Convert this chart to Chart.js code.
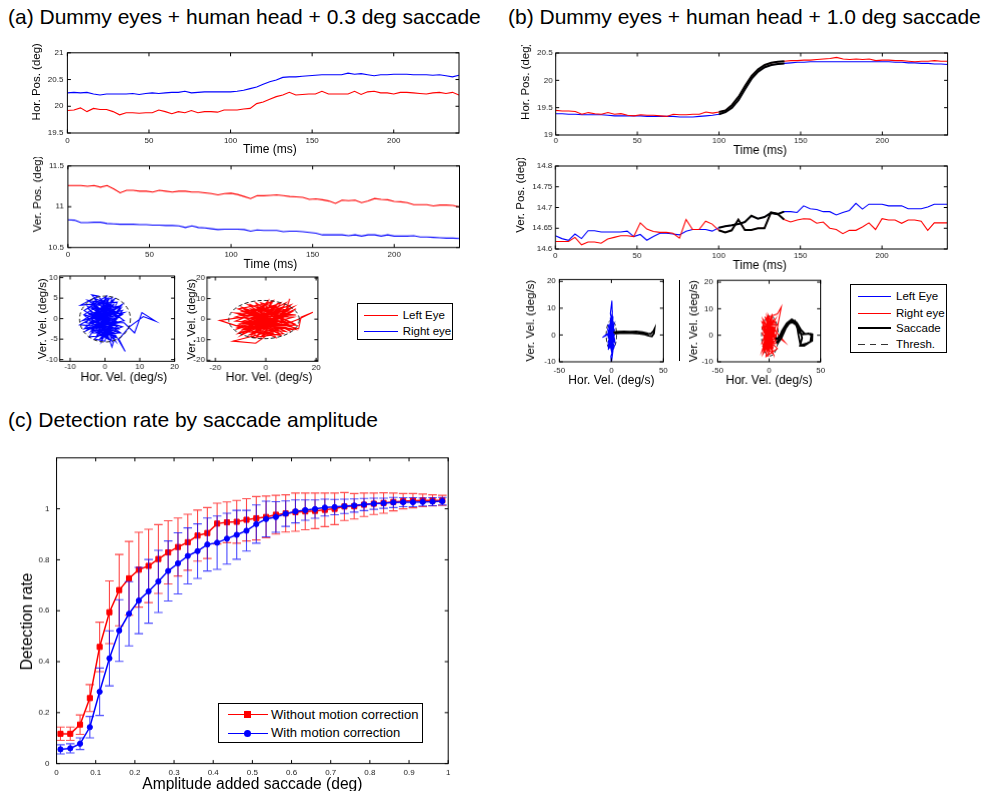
<!DOCTYPE html>
<html>
<head>
<meta charset="utf-8">
<script src="https://cdn.jsdelivr.net/npm/chart.js@4.4.1/dist/chart.umd.min.js"></script>
<style>
  body { margin: 0; background: #fff; width: 981px; height: 791px; position: relative; overflow: hidden;
         font-family: 'Liberation Sans', Arial, Helvetica, sans-serif; color: #000; }
  .plot { position: absolute; }
  .title { position: absolute; font-size: 21px; line-height: 21px; white-space: nowrap; }
  .legend { position: absolute; border: 1px solid #000; background: #fff; box-sizing: border-box; }
  .item { position: absolute; left: 0; right: 0; height: 16px; }
  .sw { position: absolute; top: 8px; height: 0; }
  .mk { position: absolute; }
  .lab { position: absolute; top: 0; line-height: 16px; white-space: nowrap; }
  .vline { position: absolute; background: #000; }
</style>
</head>
<body>
<div class="title" style="left:8px;top:6px">(a) Dummy eyes + human head + 0.3 deg saccade</div>
<div class="title" style="left:508px;top:6px">(b) Dummy eyes + human head + 1.0 deg saccade</div>
<div class="title" style="left:8px;top:409px">(c) Detection rate by saccade amplitude</div>

<div class="legend" style="left:356.7px;top:302.7px;width:96px;height:37px">
  <div class="item" style="top:3px"><div class="sw" style="left:6.6px;width:33.4px;border-top:1px solid #ff0000"></div><div class="lab" style="left:45px;font-size:11.5px">Left Eye</div></div>
  <div class="item" style="top:19.3px"><div class="sw" style="left:6.6px;width:33.4px;border-top:1px solid #0000ff"></div><div class="lab" style="left:45px;font-size:11.5px">Right eye</div></div>
</div>

<div class="legend" style="left:850px;top:284px;width:96.7px;height:68.7px">
  <div class="item" style="top:3px"><div class="sw" style="left:6.7px;width:33.3px;border-top:1px solid #0000ff"></div><div class="lab" style="left:45px;font-size:11.5px">Left Eye</div></div>
  <div class="item" style="top:19.7px"><div class="sw" style="left:6.7px;width:33.3px;border-top:1px solid #ff0000"></div><div class="lab" style="left:45px;font-size:11.5px">Right eye</div></div>
  <div class="item" style="top:35.3px"><div class="sw" style="left:6.7px;width:33.3px;border-top:2.5px solid #000;margin-top:-1px"></div><div class="lab" style="left:45px;font-size:11.5px">Saccade</div></div>
  <div class="item" style="top:50.7px"><div class="sw" style="left:6.7px;width:33.3px;height:1.2px;background:repeating-linear-gradient(to right,#333 0 6.7px,transparent 6.7px 11.7px)"></div><div class="lab" style="left:45px;font-size:11.5px">Thresh.</div></div>
</div>

<div class="legend" style="left:218.3px;top:703.3px;width:204.4px;height:40px">
  <div class="item" style="top:2.7px"><div class="sw" style="left:8.4px;width:40px;border-top:1.5px solid #ff0000;margin-top:-0.5px"></div>
    <div class="mk" style="left:24.9px;top:4.5px;width:7px;height:7px;background:#ff0000"></div>
    <div class="lab" style="left:51.7px;font-size:13px">Without motion correction</div></div>
  <div class="item" style="top:21px"><div class="sw" style="left:8.4px;width:40px;border-top:1.5px solid #0000ff;margin-top:-0.5px"></div>
    <div class="mk" style="left:24.9px;top:4.5px;width:7px;height:7px;background:#0000ff;border-radius:50%"></div>
    <div class="lab" style="left:51.7px;font-size:13px">With motion correction</div></div>
</div>

<div class="vline" style="left:679px;top:280.3px;width:1.2px;height:81px"></div>

<script>
// ---------- data ----------
const T_MS = [0, 4, 8, 12, 16, 20, 24, 28, 32, 36, 40, 44, 48, 52, 56, 60, 64, 68, 72, 76, 80, 84, 88, 92, 96, 100,
  104, 108, 112, 116, 120, 124, 128, 132, 136, 140, 144, 148, 152, 156, 160, 164, 168, 172, 176, 180, 184, 188, 192, 196,
  200, 204, 208, 212, 216, 220, 224, 228, 232, 236, 240];
const SACC_WINDOW = [100, 140];

// (a) horizontal / vertical position, left eye (red) and right eye (blue)
const A_HOR_LEFT = [19.92, 19.93, 19.97, 19.90, 19.96, 19.94, 19.94, 19.90, 19.84, 19.88, 19.88, 19.87, 19.88, 19.88, 19.93,
  19.90, 19.86, 19.90, 19.88, 19.92, 19.88, 19.90, 19.90, 19.89, 19.93, 19.93, 19.93, 19.95, 19.96, 20.05, 20.08, 20.13, 20.18,
  20.21, 20.26, 20.21, 20.22, 20.23, 20.23, 20.28, 20.23, 20.23, 20.23, 20.23, 20.28, 20.22, 20.27, 20.28, 20.25, 20.25, 20.23,
  20.26, 20.26, 20.25, 20.24, 20.23, 20.25, 20.26, 20.24, 20.26, 20.21];
const A_HOR_RIGHT = [20.25, 20.26, 20.25, 20.26, 20.23, 20.21, 20.23, 20.23, 20.23, 20.23, 20.24, 20.22, 20.24, 20.25, 20.24,
  20.25, 20.26, 20.26, 20.28, 20.25, 20.26, 20.27, 20.27, 20.27, 20.27, 20.27, 20.28, 20.30, 20.33, 20.36, 20.41, 20.46, 20.49,
  20.54, 20.55, 20.55, 20.56, 20.57, 20.58, 20.59, 20.59, 20.59, 20.59, 20.62, 20.60, 20.61, 20.59, 20.57, 20.59, 20.59, 20.60,
  20.60, 20.60, 20.59, 20.59, 20.59, 20.58, 20.59, 20.57, 20.55, 20.58];
const A_VER_LEFT = [11.26, 11.26, 11.26, 11.25, 11.26, 11.24, 11.26, 11.22, 11.17, 11.20, 11.20, 11.19, 11.19, 11.18, 11.20,
  11.19, 11.18, 11.19, 11.19, 11.18, 11.18, 11.17, 11.16, 11.145, 11.16, 11.165, 11.15, 11.125, 11.10, 11.135, 11.135, 11.14,
  11.145, 11.135, 11.125, 11.12, 11.115, 11.09, 11.095, 11.085, 11.07, 11.04, 11.08, 11.075, 11.08, 11.05, 11.07, 11.10, 11.09,
  11.085, 11.065, 11.06, 11.05, 11.025, 11.025, 11.025, 11.01, 11.02, 11.02, 11.015, 10.995];
const A_VER_RIGHT = [10.84, 10.835, 10.805, 10.805, 10.81, 10.81, 10.795, 10.79, 10.785, 10.785, 10.785, 10.78, 10.78, 10.775,
  10.775, 10.77, 10.77, 10.765, 10.745, 10.765, 10.745, 10.74, 10.73, 10.72, 10.725, 10.725, 10.725, 10.72, 10.70, 10.715, 10.71,
  10.71, 10.71, 10.695, 10.70, 10.70, 10.695, 10.685, 10.675, 10.655, 10.655, 10.655, 10.655, 10.645, 10.655, 10.64, 10.655,
  10.655, 10.64, 10.655, 10.64, 10.64, 10.64, 10.645, 10.63, 10.63, 10.625, 10.62, 10.615, 10.615, 10.61];

// (a) velocity traces (deg/s)
const A_VEL_RIGHT_X = [0, -3, 2, -4.5, 3.5, -2, 1, -5.5, 4, -1, 2.5, -3.5, 5, -2.5, 0.5, -6, 3, -1.5, 4.5, -4, 1.5, -5, 2, -0.5,
  3.5, -7, -2, -3.8, 1, -3, 5.5, 8.5, 10.6, 14.5, 11, 7, 4, 5.8, 3, 2, 0, -7.2, -3, 2.5, -1, 4, -4.5, 0, 3, -2.5, 1.5, -5.5, 2,
  -1.5, 5.5, -3.5, 0.5, -2, 3.5, -4, 1, -6, 2.5, 0, -3, 5, -1, -4.5, 3, -2, 1.5, -0.5, 2, -3.5, 4, 0.5, -2.5, 1, -1.5, 3.5, -5, 0,
  -4, 3, -5.5, 4.5, -1, 2, -6, 5, -2.5, 1.5, -4.5, 3.5, -3, 0.5, -5, 4, -2, 2.5, -6.5, 5, -1, 0, -3.5, 4.5, -5, 2, -1.5, 3, -4, 1,
  -2.5, 5.5, -5.5, 2, -0.5, 3, -3, 1];
const A_VEL_RIGHT_Y = [0, 2.5, -1.5, 1, 3, -4, 4.5, -1, -2.5, 3, -4.5, 4, 1, -2.5, 5.5, 2, -3, -5, 2.5, -3, 3.5, 4.5, 0.5, -3.5,
  4, 3.3, 5.5, 5.8, 1, -1, -1, -3.5, 1.5, -0.6, 0.5, -2, -5, -8, -4, -6.9, -2, -1.5, 0.5, 2, -1, -3.5, -4.5, 2.5, 5, 1.5, -2.5,
  0.5, -5.5, 4, -0.5, -2, -4, 2.5, 1.5, 3, -1.5, -2.5, 3.5, -5.5, -5, 3.5, 0.5, 2, -1, -3, 2, -1.5, 4, 0, 0.5, -3, 3.5, 5, -4, -2,
  1.5, 0, 4, -4.5, -2, 3, -5.5, 5.2, 1, -2, -4.5, 4, -1, 2.5, 5, -4.5, 3, -1, -2, 4.5, -0.5, 2, -4.5, 4.8, -3.5, -3.5, 2.5, -2,
  5, 1, -2.5, -5, 0.5, 1.5, -3, 3, -2.5, -5.5, 3, 0];
const A_VEL_LEFT_X = [0, -8, 7, -10, 9, -5, 4, -12, 11, -3, 6, -9, 10, -6, 3, -11, 8, -2, 5, -7, 12, -4, 2, -13, -4, 6, 9.5, 8,
  -1, -10, 4, -6, 11, -8, 1, -3, 7, -12, 13, 14, 18.7, 13, -2, -18.3, -9, 5, -5, 10, -7, 2, -1, 8, -11, 3, -4, 9, -8, 0, 6, -6,
  12, -2, 4, -9, 7, -3, 1, -10, 10, -5, 5, -1, 11, -7, 2, 0, -9, 8, -11, 10, -4, 6, -12, 12, -6, 3, -9, 9, -2, 5, -10, 11, -7,
  4, -8, 7, -5, 2, -11, 10, -3, 8, -12, 6, -1, 9, -7, 3, -4, 12, -10, 0, 5, -6, 1];
const A_VEL_LEFT_Y = [0, 3, -4, -2, 5, -7, 7, 1, -2, 6, -8, -5, 2, 5, -3, -4, 8, -9, 4, -1, -5, 8, -6, -10.7, -11.7, -3, 9.9, 4,
  2, 6, -1, -8, 6, -3, 9, -5, 2, 3, -4.7, 1, 3.4, 0, -7, -0.6, 1, -7, 3, -6, 7, 4, -4, -1, -7, 6, -2, 3, -6, 7, -5, 1, 2, 4, -9,
  -1, 6, -8, 1, 4, -3, -4, 8, -2, 4, -8, -1, 0, 5, -6, -3, 7, -9, 8, -1, -3, 7, -7, -6, 4, 8, -5, 2, 1, -5, 6, 4, -7, -9, 8, 5,
  -5, -3, 2, -5, 5, -8, -2, 3, 9, -6, 5, -8, 3, -3, -2, 0];
// threshold ellipses: [centre x, centre y, radius x, radius y]
const A_THRESH_RIGHT = [0, -0.1, 7.3, 5.6];
const A_THRESH_LEFT = [-0.7, -0.2, 14, 9.3];

// (b) positions, left eye (blue) and right eye (red)
const B_HOR_LEFT = [19.39, 19.39, 19.38, 19.38, 19.37, 19.37, 19.37, 19.37, 19.36, 19.35, 19.35, 19.35, 19.35, 19.35, 19.34,
  19.34, 19.34, 19.34, 19.34, 19.33, 19.33, 19.33, 19.34, 19.35, 19.36, 19.38, 19.42, 19.50, 19.64, 19.84, 20.03, 20.16, 20.24,
  20.28, 20.30, 20.31, 20.32, 20.33, 20.33, 20.34, 20.34, 20.34, 20.34, 20.34, 20.34, 20.34, 20.34, 20.34, 20.34, 20.34, 20.34,
  20.34, 20.33, 20.33, 20.32, 20.32, 20.31, 20.31, 20.30, 20.30, 20.29];
const B_HOR_RIGHT = [19.45, 19.44, 19.44, 19.43, 19.38, 19.41, 19.39, 19.38, 19.41, 19.38, 19.39, 19.36, 19.35, 19.37, 19.36,
  19.36, 19.35, 19.34, 19.38, 19.37, 19.37, 19.38, 19.38, 19.42, 19.40, 19.42, 19.45, 19.55, 19.70, 19.90, 20.08, 20.20, 20.28,
  20.32, 20.34, 20.35, 20.36, 20.36, 20.37, 20.37, 20.38, 20.39, 20.40, 20.42, 20.39, 20.38, 20.39, 20.38, 20.39, 20.36, 20.37,
  20.37, 20.36, 20.36, 20.35, 20.34, 20.35, 20.35, 20.36, 20.35, 20.35];
const B_VER_LEFT = [14.632, 14.625, 14.621, 14.636, 14.625, 14.644, 14.644, 14.641, 14.641, 14.641, 14.641, 14.643, 14.630,
  14.635, 14.621, 14.630, 14.638, 14.638, 14.636, 14.634, 14.643, 14.647, 14.647, 14.647, 14.643, 14.651, 14.655, 14.657, 14.660,
  14.665, 14.680, 14.673, 14.677, 14.687, 14.684, 14.690, 14.690, 14.688, 14.704, 14.697, 14.695, 14.690, 14.690, 14.682, 14.688,
  14.693, 14.710, 14.696, 14.708, 14.708, 14.708, 14.704, 14.704, 14.704, 14.697, 14.697, 14.697, 14.701, 14.708, 14.708, 14.708];
const B_VER_RIGHT = [14.618, 14.618, 14.618, 14.628, 14.610, 14.617, 14.617, 14.614, 14.624, 14.628, 14.632, 14.632, 14.630,
  14.663, 14.648, 14.642, 14.640, 14.640, 14.638, 14.626, 14.671, 14.647, 14.647, 14.667, 14.660, 14.645, 14.640, 14.645, 14.671,
  14.646, 14.646, 14.650, 14.650, 14.688, 14.685, 14.671, 14.665, 14.670, 14.673, 14.672, 14.662, 14.665, 14.650, 14.647, 14.637,
  14.645, 14.645, 14.653, 14.663, 14.647, 14.673, 14.670, 14.670, 14.662, 14.670, 14.670, 14.667, 14.645, 14.663, 14.663, 14.663];

// (b) velocity traces (deg/s)
const B_VEL_LEFT_X = [0, -2, 2, -3, 1, -1, 3, -2.5, 1.5, -1, 2.5, -3, 0.5, -1.5, 2, -2, 1, -8.6, -4, 0, 2, -1, 0.5, 1, -2, 3,
  -0.5, 0, 1.5, -1, 2.5, -3, 1, -1.5, 3, -2, 0, 1.5, -2.5, 2, -1, 0.5, -3, 2.5, -1.5, 1, -0.5, 2, -2, 0,
  2, -2.5, 1, -1, 3, -3.5, 0.5, 1.5, -2, 2.5, -3, 0, 3.5, -1.5, 1, -2.5, 2, -1, 0.5, 0];
const B_VEL_LEFT_Y = [0, 3, -2, -4, 4, -3, 2, 1, -5, 5.5, -1, -1, 3, -2, 5, -5, 1, -0.9, 0.5, -4, 2.5, 8, 12.8, 6, -1, -4, -8,
  -10.5, -6, 2, 4, -2.5, -1, 4.5, 0, -3.5, 6, -3, 2, -4.5, 1, -2, 3.5, 1.5, -4.5, 9, 4, -2, 0, 0,
  -3, 4, -6, 6.5, -1.5, 2, -7, 7, -2.5, 3.5, -5.5, 2, -3, -1, 5, -3, 0.5, -5, 4, 0];
const B_SACC_LEFT_X = [2, 6, 12, 18, 24, 30, 35, 38, 40.5, 41.5, 41, 39, 36, 32, 27, 20, 14, 8, 3];
const B_SACC_LEFT_Y = [1, 1.2, 1.3, 1.2, 1.3, 1.0, 0.6, 0.5, 1.5, 2.3, 0.6, -0.5, -0.3, 0.2, 0.5, 0.7, 0.8, 0.7, 0.5];
const B_VEL_RIGHT_X = [0, -5, 5, -6, 4, -3, 6, -7, 3, -2, 7, -4, 2, -6, 5, -1, 1, -7, 4, -3, 8, 11.8, 9, 6, -5, 2, -4, 7, -2, 3,
  -6, 5, -1, 15, 10, 2, -5, 6, -3, 4, -7, 1, -2, 5, -4, 3, -6, 0, 6, -1, 0,
  -4, 6, -7, 4, -2, 7, -6, 3, -5, 8, -3, 1, -7, 5, -1, 2, -6, 6, -4, 0];
const B_VEL_RIGHT_Y = [0, 4, -3, -5, 6, -7, 2, 1, -6, 7, -1, -3, 5, -2, 4, -8, 3, 5, -5, 6.5, 8, 10.6, 5, -2, -6, 1, 3, 4, -4, 7,
  -7, 0, 5, -2.5, -1, -3, 1, 6, -1, -7, -3, 6, 2, -4, 7, -1, 4, -6, 3, 0, 0,
  -6, 5, 3, -7, 6, -3, -4, 8, 0, -5, -8, 4, -6, 2, 7.5, -5, 6, -1, 2, 0];
const B_SACC_RIGHT_X = [6, 9, 12.4, 17, 22, 27, 31, 35, 40, 42, 41.8, 37, 30.5, 28.5, 27, 24, 19, 15.7, 11, 7.5, 8.5, 12, 16, 21,
  25, 29, 32, 30, 34, 40, 41, 38, 33, 29, 26, 22, 16, 11, 6];
const B_SACC_RIGHT_Y = [-1, -1.5, 1.6, 4.5, 6, 4.7, 2, 0.4, 0.6, 0.4, -2.1, -3, -3.8, 0, 3.5, 5, 4.5, 3.5, 0, -2.5, -3, -1, 2.5,
  5.3, 5.5, 3, -1, -4, -4, -2.5, 0, 0.7, 0.3, 1, 4, 5, 3.5, -0.5, -1.5];
const B_THRESH_LEFT = [0, 0, 5, 5.5];
const B_THRESH_RIGHT = [0.8, -0.2, 8.1, 7.6];

// (c) detection rate
const AMP = [0.01, 0.035, 0.06, 0.085, 0.11, 0.135, 0.16, 0.185, 0.21, 0.235, 0.26, 0.285, 0.31, 0.335, 0.36, 0.385, 0.41,
  0.435, 0.46, 0.485, 0.51, 0.535, 0.56, 0.585, 0.61, 0.635, 0.66, 0.685, 0.71, 0.735, 0.76, 0.785, 0.81, 0.835, 0.86, 0.885,
  0.91, 0.935, 0.96, 0.985];
const RATE_NO_CORR = [0.117, 0.117, 0.153, 0.257, 0.458, 0.594, 0.681, 0.727, 0.761, 0.776, 0.803, 0.829, 0.85, 0.869, 0.895,
  0.905, 0.942, 0.947, 0.949, 0.957, 0.963, 0.968, 0.977, 0.982, 0.987, 0.99, 0.992, 0.996, 1.0, 1.009, 1.01, 1.016, 1.02, 1.023,
  1.027, 1.03, 1.032, 1.033, 1.033, 1.033];
const ERR_NO_CORR = [0.026, 0.026, 0.038, 0.053, 0.097, 0.123, 0.14, 0.145, 0.147, 0.144, 0.135, 0.124, 0.114, 0.11, 0.1, 0.1,
  0.08, 0.08, 0.084, 0.083, 0.085, 0.082, 0.076, 0.073, 0.075, 0.072, 0.07, 0.066, 0.062, 0.055, 0.05, 0.046, 0.042, 0.04, 0.035,
  0.03, 0.028, 0.025, 0.022, 0.02];
const RATE_WITH_CORR = [0.056, 0.06, 0.078, 0.143, 0.282, 0.413, 0.522, 0.588, 0.64, 0.676, 0.715, 0.756, 0.786, 0.815, 0.834,
  0.86, 0.867, 0.883, 0.898, 0.914, 0.94, 0.96, 0.968, 0.981, 0.99, 0.995, 0.999, 1.005, 1.007, 1.01, 1.013, 1.017, 1.02, 1.022,
  1.025, 1.026, 1.026, 1.027, 1.028, 1.03];
const ERR_WITH_CORR = [0.018, 0.018, 0.023, 0.042, 0.093, 0.108, 0.121, 0.126, 0.13, 0.125, 0.122, 0.118, 0.12, 0.11, 0.107,
  0.104, 0.105, 0.1, 0.096, 0.08, 0.075, 0.07, 0.06, 0.05, 0.045, 0.04, 0.036, 0.033, 0.03, 0.028, 0.026, 0.024, 0.022, 0.02,
  0.02, 0.018, 0.018, 0.016, 0.016, 0.015];

// tick values
const TIME_TICKS = [0, 50, 100, 150, 200];
const A_HOR_TICKS = [19.5, 20, 20.5, 21];
const A_VER_TICKS = [10.5, 11, 11.5];
const B_HOR_TICKS = [19, 19.5, 20, 20.5];
const B_VER_TICKS = [14.6, 14.65, 14.7, 14.75, 14.8];
const C_X_TICKS = [0, 0.1, 0.2, 0.3, 0.4, 0.5, 0.6, 0.7, 0.8, 0.9, 1];
const C_Y_TICKS = [0, 0.2, 0.4, 0.6, 0.8, 1];

// ---------- drawing ----------
const FONT = "'Liberation Sans', Arial, Helvetica, sans-serif";
const RED = '#ff0000', BLUE = '#0000ff';
const PAD = 8;
const NB = n => '\u00a0'.repeat(n);   // shifts an axis title off-centre like the original

const fmt = v => String(Math.round(v * 1000) / 1000);

const series = (xs, ys, color, width, order) => ({
  data: xs.map((x, i) => ({ x, y: ys[i] })),
  showLine: true, borderColor: color, borderWidth: width, pointRadius: 0, order
});

const saccadePart = (ys, order) => ({
  data: T_MS.map((t, i) => ({ x: t, y: ys[i] })).filter(p => p.x >= SACC_WINDOW[0] && p.x <= SACC_WINDOW[1]),
  showLine: true, borderColor: '#000', borderWidth: 2, pointRadius: 0, order
});

const drawEllipse = (chart, e) => {
  const { ctx, chartArea: a, scales: { x, y } } = chart;
  const px = x.getPixelForValue(e[0]), py = y.getPixelForValue(e[1]);
  const rx = Math.abs(x.getPixelForValue(e[0] + e[2]) - px);
  const ry = Math.abs(y.getPixelForValue(e[1] + e[3]) - py);
  ctx.save();
  ctx.beginPath();
  ctx.rect(a.left, a.top, a.width, a.height);
  ctx.clip();
  ctx.setLineDash([4, 2.5]);
  ctx.strokeStyle = '#1a1a1a';
  ctx.lineWidth = 1;
  ctx.beginPath();
  ctx.ellipse(px, py, rx, ry, 0, 0, Math.PI * 2);
  ctx.stroke();
  ctx.restore();
};

const threshPlugin = {
  id: 'thresh',
  beforeDatasetsDraw(chart, args, opts) { if (opts.ellipse && !opts.front) drawEllipse(chart, opts.ellipse); },
  afterDatasetsDraw(chart, args, opts) { if (opts.ellipse && opts.front) drawEllipse(chart, opts.ellipse); }
};

// box with inward ticks on all four sides
const boxPlugin = {
  id: 'box',
  afterDraw(chart) {
    const { ctx, chartArea: a, scales: { x, y } } = chart;
    const len = 3.5;
    ctx.save();
    ctx.strokeStyle = '#000';
    ctx.lineWidth = 1;
    ctx.beginPath();
    x.ticks.forEach(t => {
      const px = x.getPixelForValue(t.value);
      ctx.moveTo(px, a.bottom); ctx.lineTo(px, a.bottom - len);
      ctx.moveTo(px, a.top); ctx.lineTo(px, a.top + len);
    });
    y.ticks.forEach(t => {
      const py = y.getPixelForValue(t.value);
      ctx.moveTo(a.left, py); ctx.lineTo(a.left + len, py);
      ctx.moveTo(a.right, py); ctx.lineTo(a.right - len, py);
    });
    ctx.stroke();
    ctx.strokeRect(a.left, a.top, a.width, a.height);
    ctx.restore();
  }
};

const errorBarPlugin = {
  id: 'errorBars',
  beforeDatasetDraw(chart, args) {
    const ds = chart.data.datasets[args.index];
    if (!ds.errors) return;
    const { ctx, scales: { x, y } } = chart;
    const cap = 4.3;
    ctx.save();
    ctx.strokeStyle = ds.errorColor;
    ctx.lineWidth = 1.1;
    ctx.beginPath();
    ds.data.forEach((p, i) => {
      const e = ds.errors[i];
      const px = x.getPixelForValue(p.x);
      const top = y.getPixelForValue(p.y + e), bot = y.getPixelForValue(p.y - e);
      ctx.moveTo(px, top); ctx.lineTo(px, bot);
      ctx.moveTo(px - cap, top); ctx.lineTo(px + cap, top);
      ctx.moveTo(px - cap, bot); ctx.lineTo(px + cap, bot);
    });
    ctx.stroke();
    ctx.restore();
  }
};

function makePlot(box, cfg) {
  const ySize = cfg.ySize || 11.5, xSize = cfg.xSize || 12;
  const yw = cfg.yOff + ySize * 0.6;
  const xh = cfg.xOff + xSize * 0.6;
  const wrap = document.createElement('div');
  wrap.className = 'plot';
  wrap.style.left = (box[0] - yw) + 'px';
  wrap.style.top = (box[1] - PAD) + 'px';
  wrap.style.width = (box[2] - box[0] + yw + PAD) + 'px';
  wrap.style.height = (box[3] - box[1] + xh + PAD) + 'px';
  document.body.appendChild(wrap);
  const canvas = document.createElement('canvas');
  wrap.appendChild(canvas);

  const axis = (range, tickVals, title, size, pad, fit) => ({
    type: 'linear', min: range[0], max: range[1],
    grid: { display: false, drawTicks: false },
    border: { display: false },
    ticks: { font: { family: FONT, size: 8 }, color: '#222', padding: pad,
             autoSkip: false, maxRotation: 0, callback: fmt },
    afterBuildTicks: s => { s.ticks = tickVals.map(v => ({ value: v })); },
    afterFit: fit,
    title: { display: true, text: title, color: '#000', font: { family: FONT, size }, padding: 0 }
  });

  return new Chart(canvas, {
    type: 'scatter',
    data: { datasets: cfg.datasets },
    options: {
      responsive: true,
      maintainAspectRatio: false,
      animation: false,
      layout: { padding: { top: PAD, right: PAD, left: 0, bottom: 0 } },
      plugins: { legend: { display: false }, tooltip: { enabled: false }, thresh: cfg.thresh || {} },
      scales: {
        x: axis(cfg.xRange, cfg.xTicks, cfg.xTitle, xSize, cfg.xPad, s => { s.height = xh; }),
        y: axis(cfg.yRange, cfg.yTicks, cfg.yTitle, ySize, cfg.yPad, s => { s.width = yw; })
      }
    },
    plugins: [threshPlugin, errorBarPlugin, boxPlugin]
  });
}

// (a) top: horizontal position
makePlot([67.7, 51.7, 459.3, 132.7], {
  xRange: [0, 240], xTicks: TIME_TICKS, xTitle: NB(4) + 'Time (ms)', xOff: 17, xPad: 2.5,
  yRange: [19.5, 21], yTicks: A_HOR_TICKS, yTitle: NB(7) + 'Hor. Pos. (deg)', yOff: 30.5, yPad: 4,
  datasets: [series(T_MS, A_HOR_LEFT, RED, 1.1, 1), series(T_MS, A_HOR_RIGHT, BLUE, 1.1, 2)]
});
// (a) middle: vertical position
makePlot([67.7, 165, 459.3, 246.7], {
  xRange: [0, 240], xTicks: TIME_TICKS, xTitle: NB(4) + 'Time (ms)', xOff: 17, xPad: 2.5,
  yRange: [10.5, 11.5], yTicks: A_VER_TICKS, yTitle: NB(8) + 'Ver. Pos. (deg)', yOff: 30, yPad: 4,
  datasets: [series(T_MS, A_VER_LEFT, RED, 1.1, 1), series(T_MS, A_VER_RIGHT, BLUE, 1.1, 2)]
});
// (a) velocity, right eye
makePlot([60, 276, 174, 361.3], {
  xRange: [-13, 20], xTicks: [-10, 0, 10, 20], xTitle: NB(4) + 'Hor. Vel. (deg/s)', xOff: 16.7, xPad: 0.6,
  yRange: [-10.4, 10.4], yTicks: [-10, -5, 0, 5, 10], yTitle: 'Ver. Vel. (deg/s)', yOff: 16.7, yPad: 2,
  thresh: { ellipse: A_THRESH_RIGHT, front: true },
  datasets: [series(A_VEL_RIGHT_X, A_VEL_RIGHT_Y, BLUE, 1.1, 1)]
});
// (a) velocity, left eye
makePlot([206.7, 277, 316.7, 361.3], {
  xRange: [-23.3, 20.7], xTicks: [-20, 0, 20], xTitle: NB(4) + 'Hor. Vel. (deg/s)', xOff: 16.7, xPad: 1.6,
  yRange: [-20.5, 20.5], yTicks: [-20, -10, 0, 10, 20], yTitle: 'Ver. Vel. (deg/s)', yOff: 15, yPad: 2,
  thresh: { ellipse: A_THRESH_LEFT, front: true },
  datasets: [series(A_VEL_LEFT_X, A_VEL_LEFT_Y, RED, 1.1, 1)]
});

// (b) top: horizontal position
makePlot([555.7, 53.3, 946.7, 135.3], {
  xRange: [0, 240], xTicks: TIME_TICKS, xTitle: NB(5) + 'Time (ms)', xOff: 15.8, xPad: 0.6,
  yRange: [19, 20.5], yTicks: B_HOR_TICKS, yTitle: NB(8) + 'Hor. Pos. (deg)', yOff: 29.7, yPad: 3,
  datasets: [saccadePart(B_HOR_LEFT, 0), saccadePart(B_HOR_RIGHT, 0),
             series(T_MS, B_HOR_RIGHT, RED, 1.1, 1), series(T_MS, B_HOR_LEFT, BLUE, 1.1, 2)]
});
// (b) middle: vertical position
makePlot([555.7, 165.7, 946.7, 248.7], {
  xRange: [0, 240], xTicks: TIME_TICKS, xTitle: NB(5) + 'Time (ms)', xOff: 17, xPad: 1.8,
  yRange: [14.6, 14.8], yTicks: B_VER_TICKS, yTitle: NB(8) + 'Ver. Pos. (deg)', yOff: 34.4, yPad: 3,
  datasets: [saccadePart(B_VER_LEFT, 0), saccadePart(B_VER_RIGHT, 0),
             series(T_MS, B_VER_RIGHT, RED, 1.1, 1), series(T_MS, B_VER_LEFT, BLUE, 1.1, 2)]
});
// (b) velocity, left eye
makePlot([559.3, 279.3, 663.3, 361.3], {
  xRange: [-50, 50], xTicks: [-50, 0, 50], xTitle: 'Hor. Vel. (deg/s)', xOff: 18.2, xPad: 3.6,
  yRange: [-10, 20.7], yTicks: [-10, 0, 10, 20], yTitle: 'Ver. Vel. (deg/s)', yOff: 28.5, yPad: 3.6,
  thresh: { ellipse: B_THRESH_LEFT, front: false },
  datasets: [series(B_SACC_LEFT_X, B_SACC_LEFT_Y, '#000', 1.8, 0), series(B_VEL_LEFT_X, B_VEL_LEFT_Y, BLUE, 1.1, 1)]
});
// (b) velocity, right eye
makePlot([717.7, 279.3, 820, 361.3], {
  xRange: [-50, 50], xTicks: [-50, 0, 50], xTitle: 'Hor. Vel. (deg/s)', xOff: 18.2, xPad: 3.6,
  yRange: [-10, 20.7], yTicks: [-10, 0, 10, 20], yTitle: 'Ver. Vel. (deg/s)', yOff: 23.5, yPad: 4.4,
  thresh: { ellipse: B_THRESH_RIGHT, front: false },
  datasets: [series(B_SACC_RIGHT_X, B_SACC_RIGHT_Y, '#000', 1.8, 0), series(B_VEL_RIGHT_X, B_VEL_RIGHT_Y, RED, 1.1, 1)]
});

// (c) detection rate by amplitude
const noCorr = series(AMP, RATE_NO_CORR, RED, 1.5, 1);
Object.assign(noCorr, { pointRadius: 3.6, pointStyle: 'rect', pointBackgroundColor: RED, pointBorderColor: RED,
  pointBorderWidth: 1, errors: ERR_NO_CORR, errorColor: 'rgba(255,0,0,0.72)' });
const withCorr = series(AMP, RATE_WITH_CORR, BLUE, 1.5, 0);
Object.assign(withCorr, { pointRadius: 2.6, pointStyle: 'circle', pointBackgroundColor: BLUE, pointBorderColor: BLUE,
  pointBorderWidth: 1, errors: ERR_WITH_CORR, errorColor: 'rgba(0,0,255,0.72)' });

makePlot([56.7, 454, 448.3, 762.7], {
  xRange: [0, 1], xTicks: C_X_TICKS, xTitle: 'Amplitude added saccade (deg)', xSize: 15.6, xOff: 21.5, xPad: 4.2,
  yRange: [0, 1.2], yTicks: C_Y_TICKS, yTitle: 'Detection rate' + NB(5), ySize: 15.6, yOff: 29.2, yPad: 7,
  datasets: [noCorr, withCorr]
});
</script>
</body>
</html>
